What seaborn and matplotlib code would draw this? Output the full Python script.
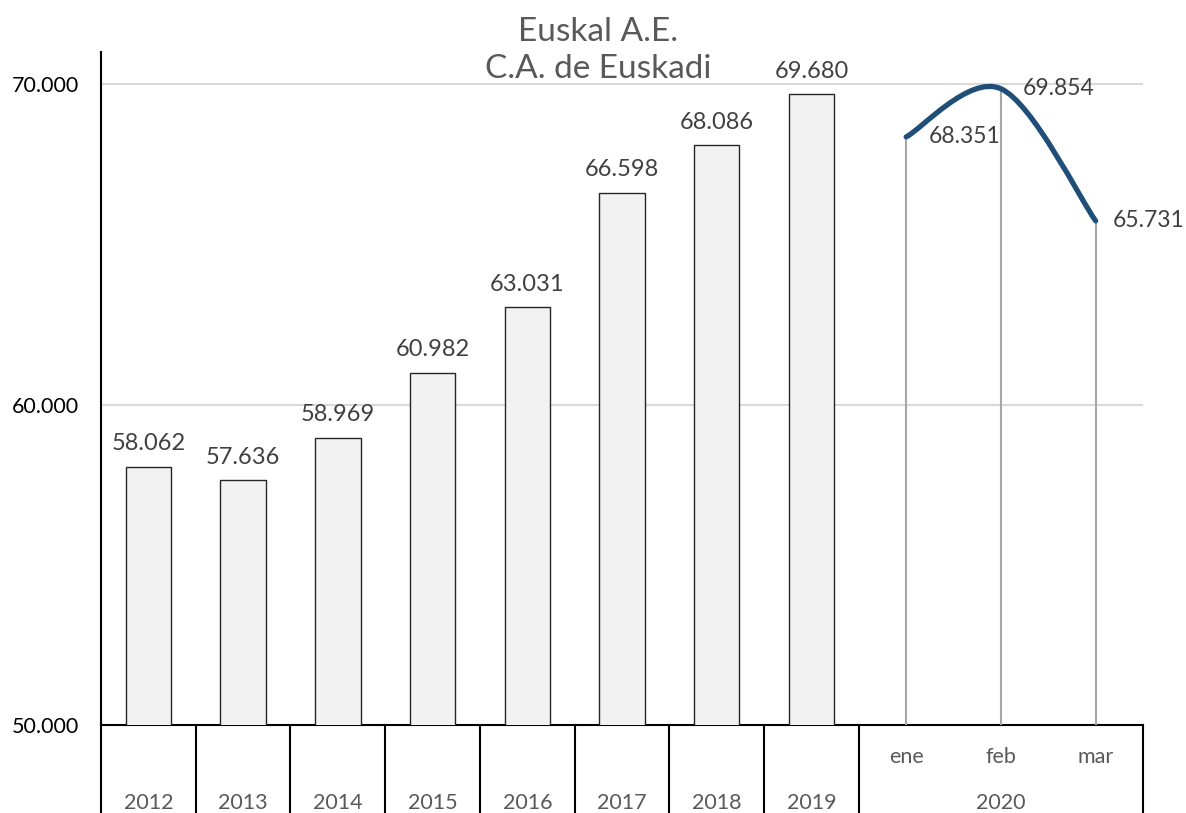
import matplotlib
matplotlib.use("Agg")
import matplotlib.pyplot as plt
import matplotlib.transforms as mtransforms
from matplotlib.path import Path
from matplotlib.patches import PathPatch
import seaborn as sns
import pandas as pd

sns.set_style("white")
plt.rcParams['font.family'] = ['Lato', 'DejaVu Sans']

# Data
years = ['2012', '2013', '2014', '2015', '2016', '2017', '2018', '2019']
year_values = [58062, 57636, 58969, 60982, 63031, 66598, 68086, 69680]
months = ['ene', 'feb', 'mar']
month_values = [68351, 69854, 65731]
month_group = '2020'
yticks = [50000, 60000, 70000]

def fmt(v):
    return '{:,.0f}'.format(v).replace(',', '.')

fig = plt.figure(figsize=(11.86, 8.13), dpi=100)
ax = fig.add_axes([101/1186, 1 - 725/813, (1143 - 101)/1186, (725 - 52)/813])

# Bars for the years
df = pd.DataFrame({'year': years, 'value': year_values})
sns.barplot(data=df, x='year', y='value', ax=ax, color='#f2f2f2', saturation=1,
            width=0.48, edgecolor='#262626', linewidth=1, zorder=3)

# Smoothed line for 2020 months (Catmull-Rom style bezier through the points)
mx = [len(years) + i for i in range(len(months))]
pts = list(zip(mx, month_values))
ext = [pts[0]] + pts + [pts[-1]]
verts = [pts[0]]
codes = [Path.MOVETO]
for i in range(1, len(ext) - 2):
    p0, p1, p2, p3 = ext[i - 1], ext[i], ext[i + 1], ext[i + 2]
    c1 = (p1[0] + (p2[0] - p0[0]) / 6, p1[1] + (p2[1] - p0[1]) / 6)
    c2 = (p2[0] - (p3[0] - p1[0]) / 6, p2[1] - (p3[1] - p1[1]) / 6)
    verts += [c1, c2, p2]
    codes += [Path.CURVE4] * 3
ax.add_patch(PathPatch(Path(verts, codes), facecolor='none', edgecolor='#1f4e79',
                       lw=3.8, capstyle='round', zorder=5))

# Drop lines
ax.vlines(mx, 50000, month_values, color='#a6a6a6', lw=1.5, zorder=4)

# Axes limits and grid
ax.set_xlim(-0.5, len(years) + len(months) - 0.5)
ax.set_ylim(50000, 71000)
ax.set_yticks(yticks)
ax.set_yticklabels([fmt(v) for v in yticks], fontsize=15.5, color='#000000')
ax.tick_params(axis='y', length=0, pad=16)
ax.set_xticks([])
ax.set_xlabel('')
ax.set_ylabel('')
for v in yticks[1:]:
    ax.axhline(v, color='#d9d9d9', lw=1.5, zorder=1)
for s in ['top', 'right']:
    ax.spines[s].set_visible(False)
for s in ['left', 'bottom']:
    ax.spines[s].set_color('#000000')
    ax.spines[s].set_linewidth(1.5)

# Data labels
for i, v in enumerate(year_values):
    ax.annotate(fmt(v), (i, v), xytext=(0, 12), textcoords='offset points',
                ha='center', va='baseline', fontsize=17, color='#404040')
offsets = [16, 16, 12]
for x, v, off in zip(mx, month_values, offsets):
    ax.annotate(fmt(v), (x, v), xytext=(off, 0), textcoords='offset points',
                ha='left', va='center', fontsize=16.5, color='#404040')

# Category table below the axis
trans = mtransforms.blended_transform_factory(ax.transData, ax.transAxes)
depth = -(813 - 725) / (725 - 52)
bounds = [i - 0.5 for i in range(len(years) + 1)] + [len(years) + len(months) - 0.5]
for b in bounds:
    ax.plot([b, b], [0, depth], transform=trans, color='#000000', lw=1.5,
            clip_on=False, solid_capstyle='butt')
yr_y = -(803 - 725) / (725 - 52)
mo_y = -(757 - 725) / (725 - 52)
for i, y in enumerate(years):
    ax.text(i, yr_y, y, transform=trans, ha='center', va='center',
            fontsize=15.5, color='#595959')
for x, m in zip(mx, months):
    ax.text(x, mo_y, m, transform=trans, ha='center', va='center',
            fontsize=15.5, color='#595959')
ax.text(mx[1], yr_y, month_group, transform=trans, ha='center', va='center',
        fontsize=15.5, color='#595959')

# Title
fig.text(598/1186, 1 - 41/813, 'Euskal A.E.', ha='center', va='baseline',
         fontsize=24, color='#595959')
fig.text(598/1186, 1 - 78/813, 'C.A. de Euskadi', ha='center', va='baseline',
         fontsize=24, color='#595959')

fig.savefig('out.png', dpi=100)
